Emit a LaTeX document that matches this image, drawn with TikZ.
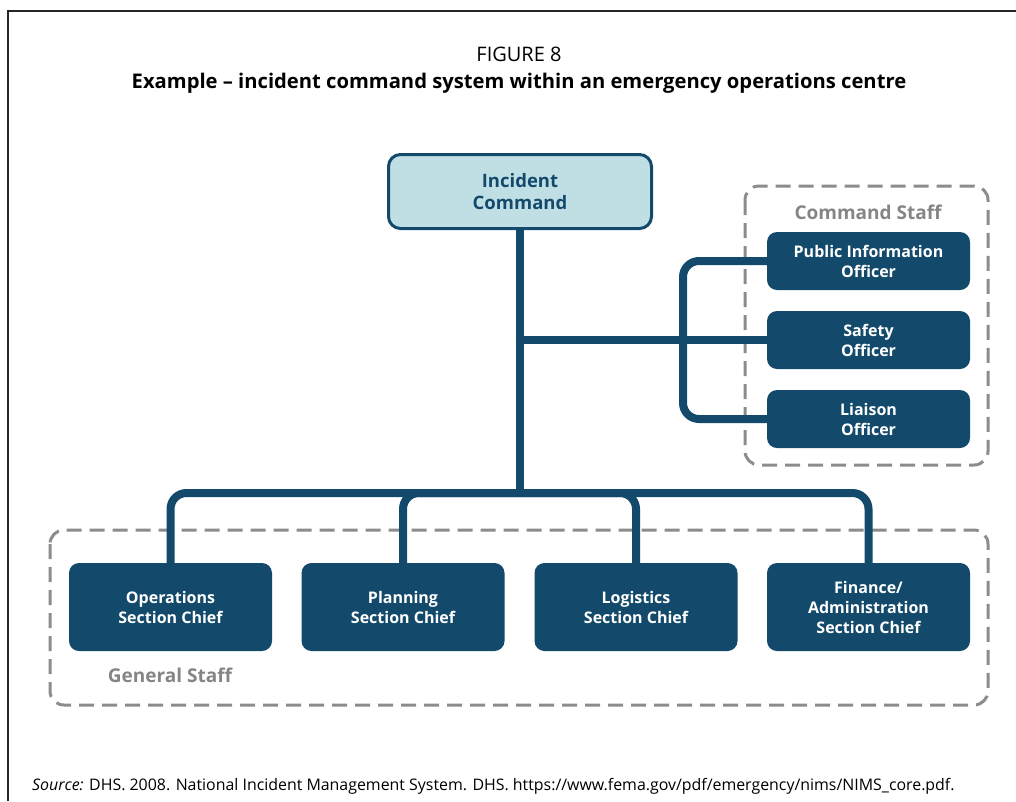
\documentclass[tikz,border=0pt]{standalone}
\usepackage{fontspec}
\setmainfont{Open Sans}
\definecolor{navy}{HTML}{134A6B}
\definecolor{pale}{HTML}{C0DFE5}
\definecolor{dgrey}{HTML}{8C8C8C}
\definecolor{lgrey}{HTML}{858585}
\pgfdeclarelayer{back}
\pgfdeclarelayer{mid}
\pgfsetlayers{back,mid,main}
\begin{document}
\begin{tikzpicture}[x=1pt,y=-1pt,
  box/.style={fill=navy, rounded corners=10pt, text=white, font=\bfseries\fontsize{16}{20}\selectfont, align=center, minimum width=203pt, inner sep=0pt},
  topbox/.style={draw=navy, line width=3pt, fill=pale, rounded corners=12pt, text=navy, font=\bfseries\fontsize{18.5}{21.5}\selectfont, align=center, minimum width=263pt, minimum height=74pt, inner sep=0pt},
  conn/.style={draw=navy, line width=8pt, rounded corners=16pt},
  dashbox/.style={draw=dgrey, line width=3pt, dash pattern=on 15pt off 8pt, rounded corners=14pt},
  grouplabel/.style={text=lgrey, font=\bfseries\fontsize{19}{22}\selectfont},
]
\useasboundingbox (0,0) rectangle (1016,801);
% frame
\draw[line width=2pt, black!85] (8,801) -- (8,11) -- (1016,11);
% titles
\node[font=\fontsize{20}{23}\selectfont] (fig) at (519,54) {FIGURE 8};
\node[font=\bfseries\fontsize{20.2}{24}\selectfont] (title) at (519,83) {Example – incident command system within an emergency operations centre};
% nodes
\node[topbox] (ic) at (520,191.5) {Incident\\Command};
\node[box, minimum height=58pt] (pio) at (868.5,261) {Public Information\\Officer};
\node[box, minimum height=58pt] (saf) at (868.5,340) {Safety\\Officer};
\node[box, minimum height=58pt] (lia) at (868.5,419) {Liaison\\Officer};
\node[box, minimum height=88pt] (ops) at (170.5,607) {Operations\\Section Chief};
\node[box, minimum height=88pt] (plan) at (403,607) {Planning\\Section Chief};
\node[box, minimum height=88pt] (log) at (636,607) {Logistics\\Section Chief};
\node[box, minimum height=88pt] (fin) at (868.5,607) {Finance/\\Administration\\Section Chief};
\node[grouplabel] (cslabel) at (868,212) {Command Staff};
\node[grouplabel] (gslabel) at (170,675) {General Staff};
% source
\node[anchor=west, font=\fontsize{15.9}{19}\selectfont, inner sep=0pt] (src) at (32,786) {\textit{Source:} DHS. 2008. National Incident Management System. DHS. https://www.fema.gov/pdf/emergency/nims/NIMS\_core.pdf.};
% group boxes
\begin{pgfonlayer}{back}
\draw[dashbox] (745,186) rectangle (988,465);
\draw[dashbox] (50,530) rectangle (988,705);
\end{pgfonlayer}
% connectors
\coordinate (bar) at (520,493);
\coordinate (cmid) at (520,340);
\coordinate (brk) at (683,340);
\begin{pgfonlayer}{mid}
\draw[conn] (ic.south) -- (bar);
\draw[conn] (ops.north) |- (bar) -| (fin.north);
\draw[conn] (plan.north) |- (bar);
\draw[conn] (bar) -| (log.north);
\draw[conn] (cmid) -- (saf.west);
\draw[conn] (pio.west) -| (brk) |- (lia.west);
\end{pgfonlayer}
\end{tikzpicture}
\end{document}
